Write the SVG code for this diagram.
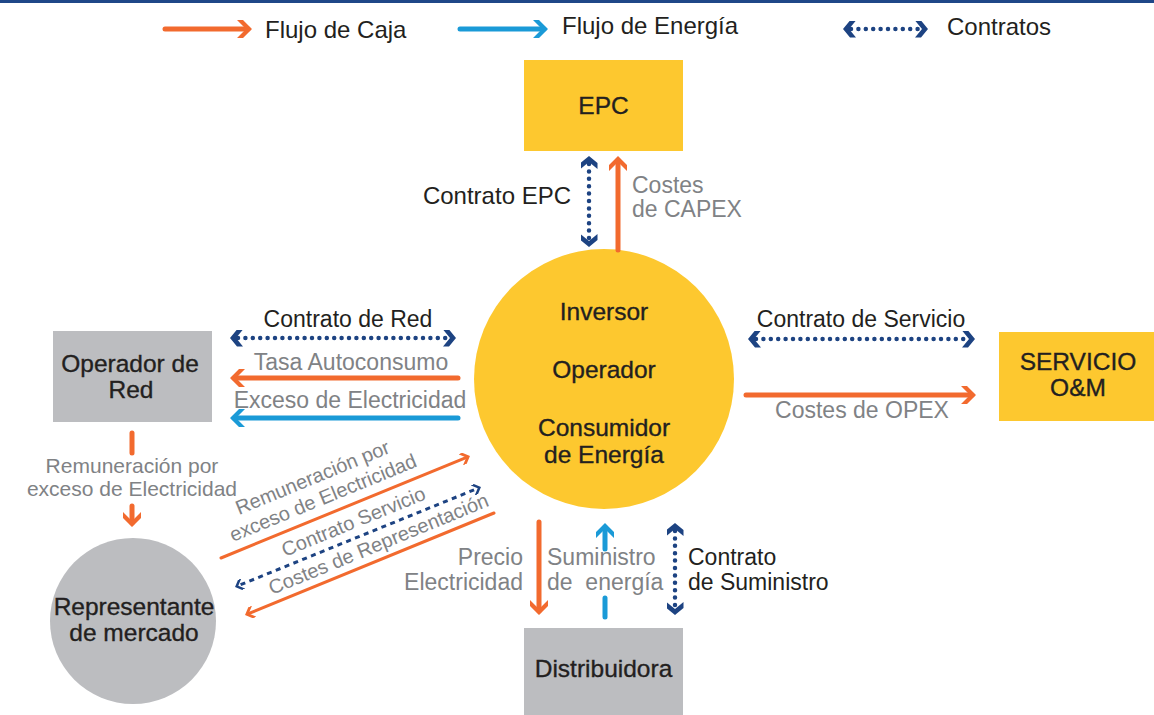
<svg xmlns="http://www.w3.org/2000/svg" width="1154" height="715" viewBox="0 0 1154 715">
<style>
text{font-family:"Liberation Sans",Arial,sans-serif;}
.lg{font-size:24px;fill:#231f20;}
.nd{font-size:24.5px;fill:#231f20;text-anchor:middle;stroke:#231f20;stroke-width:0.35px;}
.bk{font-size:23px;fill:#231f20;}
.gy{font-size:23px;fill:#808285;}
.dg{font-size:20px;fill:#808285;}
.o{stroke:#f26a2e;stroke-width:5;stroke-linecap:round;fill:none;marker-end:url(#ho);}
.b{stroke:#1a9ad7;stroke-width:5;stroke-linecap:round;fill:none;marker-end:url(#hb);}
.c{stroke:#1d4382;stroke-width:4.5;stroke-linecap:round;stroke-dasharray:0 7.4;fill:none;marker-start:url(#hc);marker-end:url(#hc);}
.os{stroke:#f26a2e;stroke-width:3;stroke-linecap:round;fill:none;marker-end:url(#hos);}
.cs{stroke:#1d4382;stroke-width:3;stroke-dasharray:5 4.5;fill:none;marker-start:url(#hcs);marker-end:url(#hcs);}
</style>
<defs>
<marker id="ho" viewBox="0 0 15 18" refX="11" refY="9" markerWidth="15" markerHeight="18" orient="auto" markerUnits="userSpaceOnUse"><path d="M0,0 L6,0 L15,9 L6,18 L0,18 L9,9 Z" fill="#f26a2e"/></marker>
<marker id="hb" viewBox="0 0 15 18" refX="11" refY="9" markerWidth="15" markerHeight="18" orient="auto" markerUnits="userSpaceOnUse"><path d="M0,0 L6,0 L15,9 L6,18 L0,18 L9,9 Z" fill="#1a9ad7"/></marker>
<marker id="hc" viewBox="0 0 13 17" refX="5" refY="8.5" markerWidth="13" markerHeight="17" orient="auto-start-reverse" markerUnits="userSpaceOnUse"><path d="M0,0 L6,0 L13,8.5 L6,17 L0,17 L7,8.5 Z" fill="#1d4382"/></marker>
<marker id="hos" viewBox="0 0 10 12" refX="7" refY="6" markerWidth="10" markerHeight="12" orient="auto" markerUnits="userSpaceOnUse"><path d="M0,0 L4,0 L10,6 L4,12 L0,12 L6,6 Z" fill="#f26a2e"/></marker>
<marker id="hcs" viewBox="0 0 9 11" refX="3" refY="5.5" markerWidth="9" markerHeight="11" orient="auto-start-reverse" markerUnits="userSpaceOnUse"><path d="M0,0 L3.5,0 L9,5.5 L3.5,11 L0,11 L5.5,5.5 Z" fill="#1d4382"/></marker>
</defs>
<rect x="0" y="0" width="1154" height="715" fill="#ffffff"/>
<rect x="0" y="0" width="1154" height="3" fill="#1f4788"/>

<g id="legend">
<line class="o" x1="165" y1="29" x2="248" y2="29"/>
<text class="lg" x="265" y="38">Flujo de Caja</text>
<line class="b" x1="460" y1="29" x2="544" y2="29"/>
<text class="lg" x="562" y="34">Flujo de Energía</text>
<line class="c" x1="851" y1="29" x2="920" y2="29"/>
<text class="lg" x="947" y="35">Contratos</text>
</g>

<g id="epc">
<rect x="524" y="60" width="159" height="91" fill="#fdc82f"/>
<text class="nd" x="603.5" y="114">EPC</text>
</g>
<g id="inversor">
<circle cx="604" cy="379" r="130" fill="#fdc82f"/>
<text class="nd" x="604" y="320">Inversor</text>
<text class="nd" x="604" y="378">Operador</text>
<text class="nd" x="604" y="436">Consumidor</text>
<text class="nd" x="604" y="463">de Energía</text>
</g>
<g id="operador-red">
<rect x="53" y="331" width="159" height="91" fill="#bcbdc0"/>
<text class="nd" x="130" y="372">Operador de</text>
<text class="nd" x="131" y="398">Red</text>
</g>
<g id="servicio-om">
<rect x="999" y="332" width="155" height="89" fill="#fdc82f"/>
<text class="nd" x="1078" y="370">SERVICIO</text>
<text class="nd" x="1078" y="396">O&amp;M</text>
</g>
<g id="distribuidora">
<rect x="524" y="628" width="159" height="87" fill="#bcbdc0"/>
<text class="nd" x="603.5" y="677">Distribuidora</text>
</g>
<g id="representante">
<circle cx="133" cy="621" r="83" fill="#bcbdc0"/>
<text class="nd" x="134" y="615">Representante</text>
<text class="nd" x="134" y="641">de mercado</text>
</g>

<g id="connectors">
<line class="c" x1="589" y1="164" x2="589" y2="239"/>
<line class="o" x1="618" y1="250" x2="618" y2="160"/>
<line class="c" x1="238" y1="338" x2="448" y2="338"/>
<line class="o" x1="458" y1="378" x2="234" y2="378"/>
<line class="b" x1="458" y1="418" x2="234" y2="418"/>
<line class="c" x1="756" y1="339" x2="967" y2="339"/>
<line class="o" x1="746" y1="395" x2="972" y2="395"/>
<line x1="132" y1="433" x2="132" y2="453" stroke="#f26a2e" stroke-width="5" stroke-linecap="round"/>
<line class="o" x1="132" y1="506" x2="132" y2="523"/>
<line class="os" x1="221" y1="558" x2="467.2" y2="457.1"/>
<line class="cs" x1="240.6" y1="584.7" x2="475.4" y2="489.3"/>
<line class="os" x1="494" y1="513" x2="247.8" y2="613.9"/>
<line class="o" x1="539" y1="522" x2="539" y2="611"/>
<line class="b" x1="605" y1="549" x2="605" y2="527"/>
<line x1="605" y1="598" x2="605" y2="617" stroke="#1a9ad7" stroke-width="5" stroke-linecap="round"/>
<line class="c" x1="675" y1="531" x2="675" y2="607"/>
</g>

<g id="labels">
<text class="bk" x="571" y="204" text-anchor="end" style="font-size:24px">Contrato EPC</text>
<text class="gy" x="632" y="193">Costes</text>
<text class="gy" x="632" y="217">de CAPEX</text>
<text class="bk" x="348" y="327" text-anchor="middle">Contrato de Red</text>
<text class="gy" x="351" y="370" text-anchor="middle">Tasa Autoconsumo</text>
<text class="gy" x="350" y="408" text-anchor="middle">Exceso de Electricidad</text>
<text class="bk" x="861" y="327" text-anchor="middle">Contrato de Servicio</text>
<text class="gy" x="862" y="418" text-anchor="middle">Costes de OPEX</text>
<text class="gy" x="132" y="473" text-anchor="middle" style="font-size:21px">Remuneración por</text>
<text class="gy" x="132" y="496" text-anchor="middle" style="font-size:21px">exceso de Electricidad</text>
<text class="dg" transform="translate(239,515) rotate(-22.3)">Remuneración por</text>
<text class="dg" transform="translate(233,542) rotate(-22.3)">exceso de Electricidad</text>
<text class="dg" transform="translate(285,557) rotate(-22.3)">Contrato Servicio</text>
<text class="dg" transform="translate(272,595) rotate(-22.3)">Costes de Representación</text>
<text class="gy" x="523" y="565" text-anchor="end">Precio</text>
<text class="gy" x="523" y="590" text-anchor="end">Electricidad</text>
<text class="gy" x="547" y="565">Suministro</text>
<text class="gy" x="547" y="590" xml:space="preserve">de  energía</text>
<text class="bk" x="688" y="565">Contrato</text>
<text class="bk" x="688" y="590">de Suministro</text>
</g>
</svg>
